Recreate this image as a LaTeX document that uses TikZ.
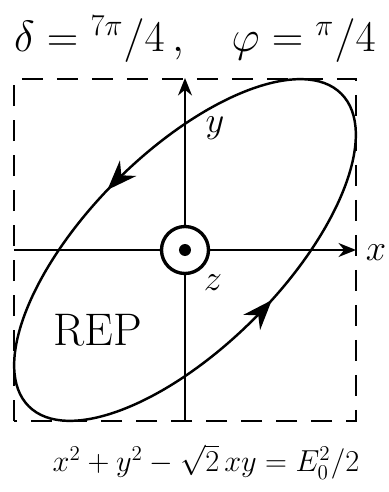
\documentclass[tikz,border=0pt]{standalone}
\usepackage{amsmath,amssymb}
\usepackage{xcolor}
\usepackage{tikz}
\usetikzlibrary{arrows.meta,decorations.markings}
\tikzset{
  frame/.style={draw, dash pattern=on 0.42cm off 0.28cm, line width=1.6pt},
  axis/.style={-{Stealth[length=3.5mm,width=2.8mm]}, line width=1.1pt},
  plainaxis/.style={line width=1.1pt},
  orbit/.style={line width=1.4pt, postaction={decorate}, decoration={markings,
      mark=at position 0.262 with {\arrow{Stealth[length=6mm,width=4.5mm]}},
      mark=at position 0.775 with {\arrow{Stealth[length=6mm,width=4.5mm]}}}},
  zring/.style={circle, draw, line width=1.9pt, minimum size=0.94cm, inner sep=0pt},
  zdot/.style={circle, fill, minimum size=0.24cm, inner sep=0pt},
  lbl/.style={font=\fontsize{20}{24}\selectfont},
  eqn/.style={font=\fontsize{18}{22}\selectfont}
}

\begin{document}
\begin{tikzpicture}
        \useasboundingbox (-3.70,-4.84) rectangle (4.06,5.00);
        % dashed bounding square
        \draw[frame] (-3.42,-3.42) rectangle (3.42,3.42);
        % polarisation ellipse
        \draw[orbit, rotate=45] (0,0) ellipse (4.42 and 1.95);
        \node[zring] (zc) at (0,0) {};
        \node[zdot] (zd) at (0,0) {};
        \coordinate (xl) at (-3.42,0);
        \coordinate (xr) at (3.42,0);
        \coordinate (yb) at (0,-3.42);
        \coordinate (yt) at (0,3.44);
        \draw[plainaxis] (xl) -- (zc);
        \draw[axis] (zc) -- (xr);
        \draw[plainaxis] (yb) -- (zc);
        \draw[axis] (zc) -- (yt);
        \node[lbl] (xlab) at (3.82,-0.06) {$x$};
        \node[lbl] (ylab) at (0.60,2.44) {$y$};
        \node[lbl] (zlab) at (0.56,-0.66) {$z$};
        \node[font=\fontsize{26}{30}\selectfont] (rep) at (-1.74,-1.60) {REP};
        \node[font=\fontsize{23}{27}\selectfont] (title) at (0.2,4.22)
          {$\delta={}^{7\pi}/4\,,\quad \varphi={}^{\pi}/4$};
        \node[eqn] (law) at (0.42,-4.24) {$x^2+y^2-\sqrt{2}\,xy=E_0^2/2$};
      \end{tikzpicture}
\end{document}
